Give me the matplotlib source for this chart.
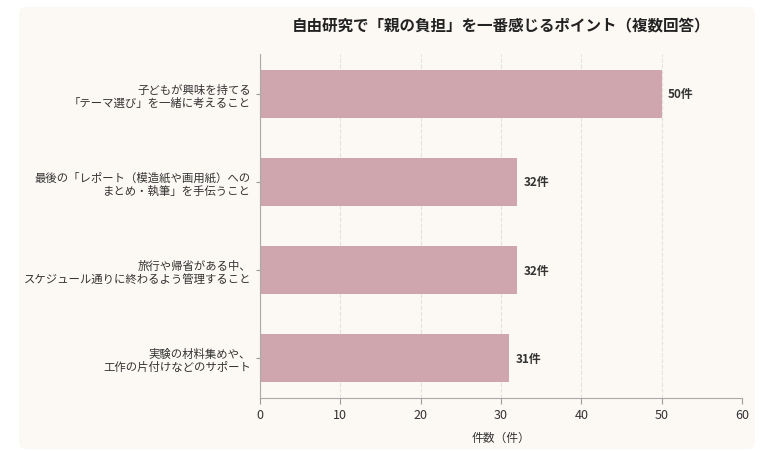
import matplotlib
matplotlib.use("Agg")
import matplotlib.pyplot as plt
from matplotlib.patches import FancyBboxPatch

plt.rcParams["font.family"] = ["Noto Sans CJK JP", "DejaVu Sans"]

labels = [
    "子どもが興味を持てる\n「テーマ選び」を一緒に考えること",
    "最後の「レポート（模造紙や画用紙）への\nまとめ・執筆」を手伝うこと",
    "旅行や帰省がある中、\nスケジュール通りに終わるよう管理すること",
    "実験の材料集めや、\n工作の片付けなどのサポート",
]
counts = [50, 32, 32, 31]

BG = "#fcf9f5"
BAR = "#d0a6ae"

fig = plt.figure(figsize=(7.65, 4.52), dpi=100)
fig.patch.set_facecolor("white")
panel = FancyBboxPatch((19 / 765, 2 / 452), 736 / 765, 442 / 452,
                       boxstyle="round,pad=0,rounding_size=0.012",
                       transform=fig.transFigure, facecolor=BG, edgecolor="none", zorder=-10)
fig.patches.append(panel)

ax = fig.add_axes([260 / 765, 53 / 452, 482 / 765, 344 / 452])
ax.patch.set_alpha(0)

y = range(len(labels))
ax.barh(y, counts, height=0.55, color=BAR, zorder=2)
ax.invert_yaxis()
for yi, v in zip(y, counts):
    ax.text(v + 0.8, yi, f"{v}件", va="center", ha="left", fontsize=8.5,
            fontweight="bold", color="#333333")

ax.set_yticks(list(y))
ax.set_yticklabels(labels, fontsize=8.2, color="#333333")
ax.set_xlim(0, 60)
ax.set_xticks(range(0, 61, 10))
ax.tick_params(axis="x", labelsize=9, colors="#333333", length=4, color="#999999")
ax.tick_params(axis="y", length=3, color="#999999")
ax.xaxis.grid(True, ls="--", color="#e2e2e2", lw=0.8, zorder=0)
ax.set_axisbelow(True)
for s in ["top", "right"]:
    ax.spines[s].set_visible(False)
for s in ["left", "bottom"]:
    ax.spines[s].set_color("#aaaaaa")
ax.set_xlabel("件数（件）", fontsize=8.5, color="#333333", labelpad=7)
ax.set_title("自由研究で「親の負担」を一番感じるポイント（複数回答）",
             fontsize=11.2, fontweight="bold", color="#222222", pad=18)

fig.savefig("out.png", dpi=100, facecolor="white")
